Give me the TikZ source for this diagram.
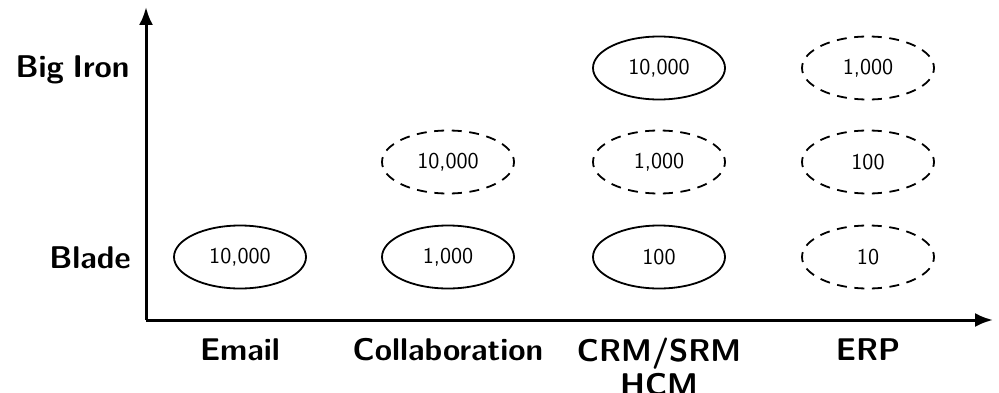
\documentclass[tikz,border=0pt]{standalone}
\usetikzlibrary{shapes.geometric,arrows.meta}
\begin{document}
\begin{tikzpicture}[x=1pt,y=1pt,
  cell/.style={ellipse,draw,line width=0.9pt,minimum width=66pt,minimum height=31.5pt,inner sep=0pt,
    font=\fontsize{11.3}{13}\sffamily},
  dcell/.style={cell,dash pattern=on 5pt off 3.78pt,dash phase=2.5pt},
  axlab/.style={font=\fontsize{15.7}{17}\selectfont\sffamily\bfseries,inner sep=0pt},
  axis/.style={line width=1.5pt,-{Latex[length=9pt,width=7pt]}}]
\useasboundingbox (0,0) rectangle (499.5,196);
\coordinate (O) at (73,36);
\coordinate (ytip) at (73,192.5);
\coordinate (xtip) at (496.5,36);
\draw[axis] (O) -- (ytip);
\draw[axis] (O) -- (xtip);
% row labels
\node[axlab,anchor=base east] (big) at (65,157.5) {Big\hspace{0.28em}Iron};
\node[axlab,anchor=base east] (blade) at (65.5,62) {Blade};
% column labels
\node[axlab,anchor=base] (email) at (120,16) {Email};
\node[axlab,anchor=base] (collab) at (224,16) {Collaboration};
\node[axlab,anchor=base,align=center] (crm) at (329.5,-1.5) {CRM/SRM\\HCM};
\node[axlab,anchor=base] (erp) at (434,16) {ERP};
% cells
\node[cell] (e1) at (120,67.5) {10,000};
\node[cell] (c1) at (224,67.5) {1,000};
\node[dcell] (c2) at (224,115) {10,000};
\node[cell] (r1) at (329.5,67.5) {100};
\node[dcell] (r2) at (329.5,115) {1,000};
\node[cell] (r3) at (329.5,162) {10,000};
\node[dcell] (p1) at (434,67.5) {10};
\node[dcell] (p2) at (434,115) {100};
\node[dcell] (p3) at (434,162) {1,000};
\end{tikzpicture}
\end{document}
